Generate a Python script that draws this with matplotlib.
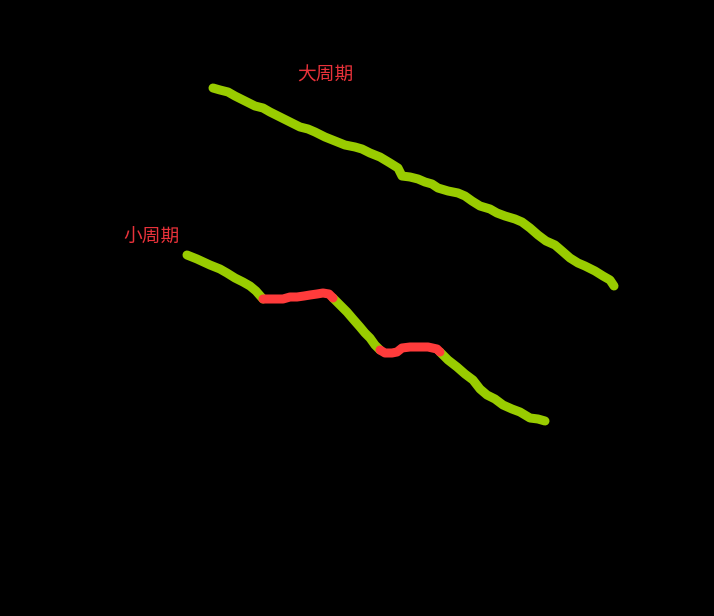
import matplotlib
matplotlib.use("Agg")
from matplotlib import pyplot as plt

plt.rcParams['font.family'] = ['Noto Sans CJK SC', 'DejaVu Sans']

# trazos (x, y en pixeles, y hacia abajo)
gran_x = [213, 220, 228, 235, 245, 255, 263, 270, 280, 290, 300, 308, 315, 325, 335, 345,
          355, 362, 370, 380, 390, 398, 402, 410, 418, 425, 432, 438, 448, 458, 465, 472,
          480, 490, 497, 505, 515, 522, 530, 538, 546, 555, 562, 570, 578, 585, 595, 603,
          610, 614]
gran_y = [88, 90, 92, 96, 101, 106, 108, 112, 117, 122, 127, 129, 132, 137, 141, 145,
          147, 149, 153, 157, 163, 168, 176, 177, 179, 182, 184, 188, 191, 193, 196, 201,
          206, 209, 213, 216, 219, 222, 228, 235, 241, 245, 251, 258, 263, 266, 271, 276,
          280, 286]

peq_verde1_x = [187, 197, 210, 220, 227, 235, 243, 250, 256, 263]
peq_verde1_y = [255, 259, 265, 269, 273, 278, 282, 286, 291, 299]
peq_rojo1_x = [263, 272, 283, 290, 297, 304, 310, 317, 323, 329, 333]
peq_rojo1_y = [299, 299, 299, 297, 297, 296, 295, 294, 293, 294, 298]
peq_verde2_x = [333, 340, 347, 353, 360, 365, 370, 375, 380]
peq_verde2_y = [298, 305, 312, 319, 327, 333, 338, 345, 350]
peq_rojo2_x = [380, 385, 392, 397, 402, 410, 420, 428, 437, 440]
peq_rojo2_y = [350, 353, 353, 352, 348, 347, 347, 347, 349, 352]
peq_verde3_x = [440, 448, 457, 465, 473, 480, 487, 495, 503, 512, 520, 530, 538, 545]
peq_verde3_y = [352, 360, 367, 374, 380, 389, 395, 399, 405, 409, 412, 418, 419, 421]

verde = '#99cc00'
rojo = '#ff3b3b'

fig = plt.figure(figsize=(7.14, 6.16), dpi=100, facecolor='black')
ax = fig.add_axes([0, 0, 1, 1])
ax.set_facecolor('black')
ax.set_xlim(0, 714)
ax.set_ylim(616, 0)
ax.axis('off')

estilo = dict(lw=6.5, solid_capstyle='round', solid_joinstyle='round')
ax.plot(gran_x, gran_y, color=verde, **estilo)
ax.plot(peq_verde1_x, peq_verde1_y, color=verde, **estilo)
ax.plot(peq_verde2_x, peq_verde2_y, color=verde, **estilo)
ax.plot(peq_verde3_x, peq_verde3_y, color=verde, **estilo)
ax.plot(peq_rojo1_x, peq_rojo1_y, color=rojo, **estilo)
ax.plot(peq_rojo2_x, peq_rojo2_y, color=rojo, **estilo)

ax.text(325, 75, '大周期', color='#e8323a', fontsize=13.5, fontweight='light',
        ha='center', va='center')
ax.text(152, 237, '小周期', color='#e8323a', fontsize=13.5, fontweight='light',
        ha='center', va='center')

fig.savefig('out.png', dpi=100, facecolor='black')
